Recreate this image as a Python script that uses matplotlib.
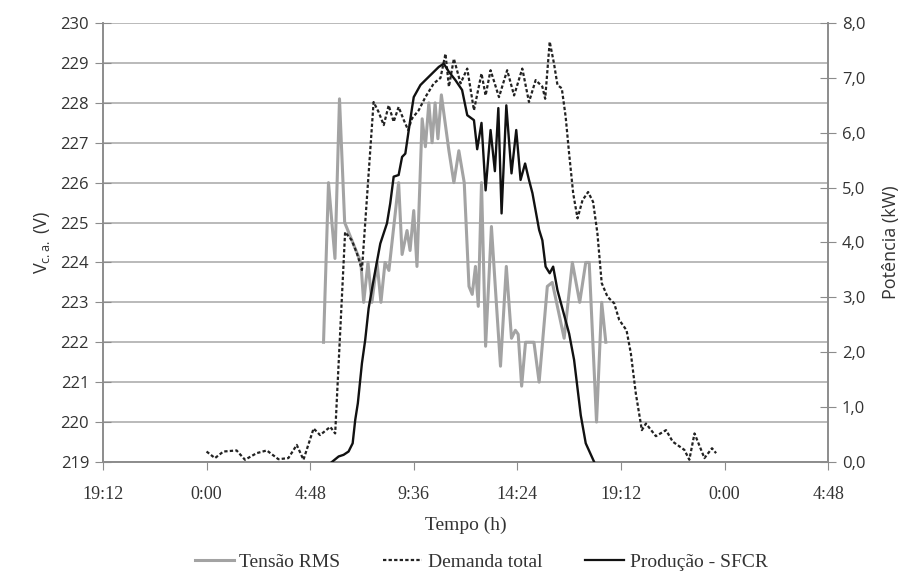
import matplotlib
matplotlib.use('Agg')
import matplotlib.pyplot as plt
from matplotlib.lines import Line2D

# Tensão RMS (V) - tempo em horas a partir de 0:00 do primeiro dia
t_tensao = [5.42, 5.65, 5.95, 6.16, 6.40, 7.15, 7.28, 7.48, 7.66, 7.90, 8.08, 8.27, 8.45,
            8.90, 9.06, 9.29, 9.43, 9.60, 9.75, 9.99, 10.14, 10.30, 10.45, 10.59, 10.72,
            10.88, 11.23, 11.46, 11.69, 11.94, 12.16, 12.31, 12.46, 12.59, 12.74, 12.93,
            13.20, 13.39, 13.62, 13.89, 14.13, 14.31, 14.44, 14.60, 14.78, 15.17, 15.41,
            15.79, 16.02, 16.57, 16.95, 17.29, 17.57, 17.73, 18.07, 18.31, 18.50]
tensao = [222.0, 226.0, 224.1, 228.1, 225.0, 224.0, 223.0, 224.0, 223.0, 224.0, 223.0, 224.0, 223.8,
          226.0, 224.2, 224.8, 224.3, 225.3, 223.9, 227.6, 226.9, 228.0, 227.0, 228.0, 227.1,
          228.2, 226.8, 226.0, 226.8, 226.0, 223.4, 223.2, 223.9, 222.9, 226.0, 221.9,
          224.9, 223.3, 221.4, 223.9, 222.1, 222.3, 222.2, 220.9, 222.0, 222.0, 221.0,
          223.4, 223.5, 222.1, 224.0, 223.0, 224.0, 224.0, 220.0, 223.0, 222.0]

# Demanda total (kW)
t_demanda = [0.00, 0.39, 0.78, 1.39, 1.78, 2.32, 2.79, 3.33, 3.79, 4.18, 4.49, 4.96, 5.26,
             5.73, 5.96, 6.42, 6.73, 6.97, 7.20, 7.74, 7.97, 8.21, 8.44, 8.67, 8.90, 9.14,
             9.34, 9.52, 9.83, 10.14, 10.53, 10.84, 11.07, 11.23, 11.46, 11.77, 12.08, 12.39,
             12.74, 12.93, 13.16, 13.55, 13.93, 14.25, 14.63, 14.94, 15.25, 15.56, 15.69,
             15.90, 16.10, 16.26, 16.46, 16.64, 16.80, 16.99, 17.19, 17.42, 17.68, 17.91,
             18.11, 18.31, 18.58, 18.89, 19.12, 19.46, 19.66, 19.89, 20.17, 20.36, 20.82,
             21.29, 21.60, 22.14, 22.37, 22.61, 23.07, 23.42, 23.61]
demanda = [0.19, 0.07, 0.19, 0.21, 0.04, 0.16, 0.21, 0.05, 0.07, 0.31, 0.04, 0.61, 0.49,
           0.64, 0.52, 4.19, 4.04, 3.80, 3.50, 6.56, 6.38, 6.14, 6.50, 6.20, 6.47, 6.23,
           6.05, 6.26, 6.41, 6.65, 6.90, 7.00, 7.44, 6.84, 7.35, 6.90, 7.17, 6.41,
           7.08, 6.68, 7.14, 6.65, 7.14, 6.68, 7.17, 6.56, 6.96, 6.84, 6.62,
           7.66, 7.26, 6.87, 6.81, 6.29, 5.62, 4.89, 4.44, 4.77, 4.92, 4.74,
           4.17, 3.26, 3.01, 2.89, 2.59, 2.40, 1.98, 1.25, 0.58, 0.70, 0.47,
           0.58, 0.37, 0.22, 0.04, 0.52, 0.07, 0.25, 0.16]

# Produção - SFCR (kW)
t_producao = [5.81, 6.12, 6.35, 6.58, 6.77, 6.89, 7.01, 7.20, 7.35, 7.51, 7.74, 8.05, 8.36,
              8.51, 8.67, 8.90, 9.06, 9.21, 9.37, 9.52, 9.60, 9.91, 10.14, 10.45, 10.76,
              10.99, 11.23, 11.53, 11.84, 12.08, 12.39, 12.54, 12.74, 12.93, 13.16, 13.36,
              13.52, 13.67, 13.89, 14.13, 14.35, 14.55, 14.76, 14.94, 15.10, 15.41, 15.56,
              15.71, 15.90, 16.06, 16.26, 16.80, 17.03, 17.34, 17.57, 17.96]
producao = [0.0, 0.10, 0.13, 0.19, 0.34, 0.77, 1.07, 1.80, 2.22, 2.80, 3.32, 3.98, 4.35,
            4.71, 5.20, 5.23, 5.56, 5.62, 6.05, 6.45, 6.65, 6.87, 6.96, 7.08, 7.20,
            7.26, 7.11, 6.96, 6.78, 6.32, 6.23, 5.70, 6.18, 4.95, 6.05, 5.30,
            6.45, 4.53, 6.50, 5.26, 6.05, 5.14, 5.44, 5.14, 4.90, 4.23, 4.04,
            3.56, 3.44, 3.56, 3.13, 2.34, 1.86, 0.85, 0.34, 0.0]

x_ticks = [-4.8, 0, 4.8, 9.6, 14.4, 19.2, 24.0, 28.8]
x_labels = ['19:12', '0:00', '4:48', '9:36', '14:24', '19:12', '0:00', '4:48']

cinza = '#a3a3a3'
grade = '#b4b4b4'
eixo = '#8c8c8c'

fig = plt.figure(figsize=(9.08, 5.76), dpi=100)
ax = fig.add_axes([0.1134, 0.198, 0.7986, 0.762])
ax2 = ax.twinx()

ax.set_xlim(-4.8, 28.8)
ax.set_ylim(219, 230)
ax2.set_ylim(0, 8)

for v in range(219, 231):
    ax.axhline(v, color=grade, lw=1.3, zorder=0)

ax.plot(t_tensao, tensao, color=cinza, lw=2.2, zorder=3)
ax2.plot(t_demanda, demanda, color='#222222', lw=1.6, ls=(0, (1.5, 1.0)), zorder=4)
ax2.plot(t_producao, producao, color='#111111', lw=1.7, zorder=5)

ax.set_xticks(x_ticks)
ax.set_xticklabels(x_labels, family='Liberation Serif', fontsize=13, color='#333333')
ax.set_yticks(range(219, 231))
ax.set_yticklabels([str(v) for v in range(219, 231)], family='Open Sans', fontsize=12, color='#333333')
ax2.set_yticks(range(0, 9))
ax2.set_yticklabels(['%d,0' % v for v in range(0, 9)], family='Open Sans', fontsize=12, color='#333333')

ax.tick_params(axis='x', direction='out', length=6, color=eixo, pad=11)
ax.tick_params(axis='y', direction='inout', length=12, color=eixo, pad=4)
ax2.tick_params(axis='y', direction='inout', length=12, color=eixo, pad=4)

for a in (ax, ax2):
    for s in a.spines.values():
        s.set_color(eixo)
        s.set_linewidth(1.2)
    a.spines['top'].set_visible(False)

ax.set_xlabel('Tempo (h)', family='Liberation Serif', fontsize=14, color='#333333', labelpad=10)
ax.set_ylabel('V$_{\\mathregular{c.a.}}$ (V)', family='Open Sans', fontsize=13, color='#333333', labelpad=6)
ax2.set_ylabel('Potência (kW)', family='Open Sans', fontsize=13, color='#333333', labelpad=12)

handles = [Line2D([], [], color=cinza, lw=2.2),
           Line2D([], [], color='#222222', lw=1.6, ls=(0, (1.5, 1.0))),
           Line2D([], [], color='#111111', lw=1.6)]
fig.legend(handles, ['Tensão RMS', 'Demanda total', 'Produção - SFCR'],
           loc='center', bbox_to_anchor=(0.53, 0.024), ncol=3, frameon=False,
           prop={'family': 'Liberation Serif', 'size': 14}, handlelength=2.0,
           handletextpad=0.3, columnspacing=2.2, labelcolor='#333333')

fig.savefig('out.png', dpi=100)
